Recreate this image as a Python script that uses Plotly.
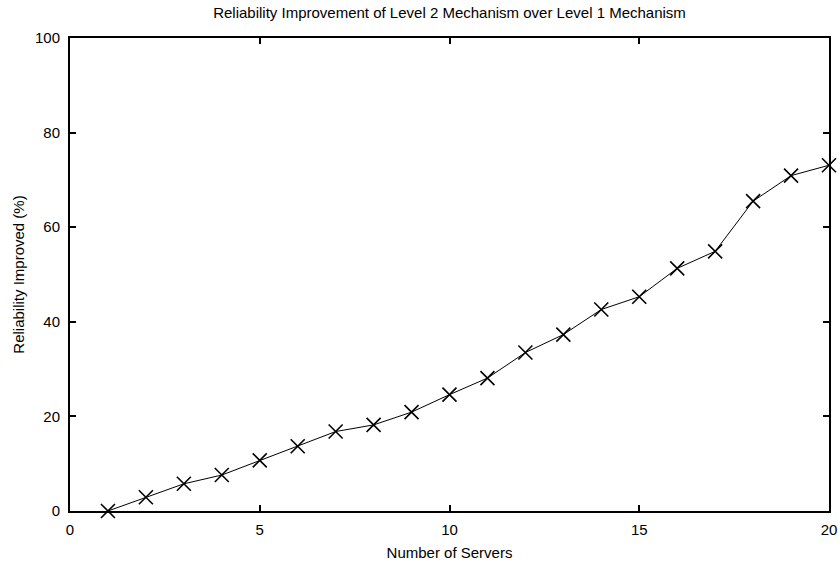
import plotly.graph_objects as go

servers = list(range(1, 21))
improved = [0, 2.9, 5.75, 7.6, 10.7, 13.7, 16.8, 18.2, 20.9, 24.6,
            28.1, 33.5, 37.3, 42.6, 45.3, 51.3, 54.9, 65.5, 70.9, 73.1]

fig = go.Figure()
fig.add_trace(go.Scatter(
    x=servers, y=improved, mode="lines+markers",
    line=dict(color="black", width=1),
    marker=dict(symbol="x-thin", size=14, line=dict(color="black", width=1.6)),
    cliponaxis=False, showlegend=False,
))

FAM = "Liberation Sans, Arial, sans-serif"
font = dict(family=FAM, size=15, color="black")
axis_common = dict(
    showgrid=False, zeroline=False, showline=True, linecolor="black", linewidth=2,
    mirror="allticks", ticks="inside", ticklen=6, tickwidth=1.5, tickcolor="black",
    tickfont=font, automargin=False,
)
fig.update_layout(
    width=840, height=569,
    margin=dict(l=70, r=11, t=38, b=58),
    paper_bgcolor="white", plot_bgcolor="white",
    font=font,
    title=dict(text="Reliability Improvement of Level 2 Mechanism over Level 1 Mechanism",
               x=0.5, xref="paper", y=0.977, yanchor="middle", font=dict(size=15, family=FAM)),
    xaxis=dict(range=[0, 20], tickvals=[0, 5, 10, 15, 20], ticklabelstandoff=4,
               title=dict(text="Number of Servers", font=dict(size=15, family=FAM), standoff=10),
               **axis_common),
    yaxis=dict(range=[0, 100], tickvals=[0, 20, 40, 60, 80, 100], ticklabelstandoff=5,
               title=dict(text="Reliability Improved (%)", font=dict(size=15, family=FAM), standoff=7),
               **axis_common),
)
fig.write_html("out.html")
